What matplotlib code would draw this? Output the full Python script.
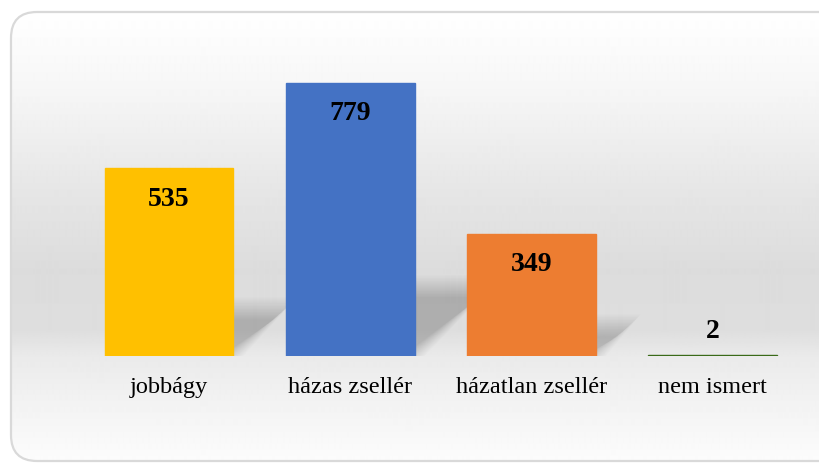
import numpy as np
import matplotlib
matplotlib.use("Agg")
import matplotlib.pyplot as plt
from matplotlib.patches import FancyBboxPatch, Polygon

categories = ["jobbágy", "házas zsellér", "házatlan zsellér", "nem ismert"]
values = [535, 779, 349, 2]
colors = ["#FFC000", "#4472C4", "#ED7D31", "#3A6A18"]

W, H = 820, 463
fig = plt.figure(figsize=(W / 100, H / 100), dpi=100)

# background: rounded box with a soft vertical gradient
bg = fig.add_axes([0, 0, 1, 1])
bg.set_xlim(0, W)
bg.set_ylim(H, 0)
bg.axis("off")
stops_y = [12, 90, 190, 270, 330, 356, 400, 462]
stops_g = [255, 246, 230, 220, 222, 234, 242, 252]
grad = np.interp(np.arange(H), stops_y, stops_g) / 255.0
img = np.repeat(grad[:, None], 2, axis=1)
box = FancyBboxPatch((11, 12), 840, 449, boxstyle="round,pad=0,rounding_size=26",
                     facecolor="none", edgecolor="#d9d9d9", linewidth=1.6, zorder=3)
bg.add_patch(box)
im = bg.imshow(img, cmap="gray", vmin=0, vmax=1, extent=(0, W, H, 0), aspect="auto",
               interpolation="bilinear", zorder=1)
im.set_clip_path(box)

# bar chart
ax = fig.add_axes([78.3 / W, 107 / H, 725 / W, 297.9 / H])
ax.set_facecolor("none")
ax.set_xlim(-0.5, 3.5)
ax.set_ylim(0, 850)
x = np.arange(len(categories))
bw = 0.71

# perspective shadows behind the bars (blurred by layering)
px_x = 725 / 4.0
px_y = 297.9 / 850
for xi, v in zip(x, values):
    hs = 0.26 * v
    hs_px = hs * px_y
    if hs_px < 3:
        continue
    dx = 1.1 * hs * px_y / px_x
    base = np.array([[xi - bw / 2, 0], [xi + bw / 2, 0],
                     [xi + bw / 2 + dx, hs], [xi - bw / 2 + dx, hs]])
    for b in np.linspace(-12, 10, 16):
        ex = b / px_x
        ey = b / px_y
        pts = base.copy()
        pts[[1, 2], 0] += ex
        pts[[2, 3], 1] += ey
        pts[:, 1] = np.clip(pts[:, 1], 0, None)
        ax.add_patch(Polygon(pts, closed=True, facecolor="black", edgecolor="none",
                             alpha=0.012, zorder=1))

ax.bar(x, values, width=bw, color=colors, edgecolor=colors, linewidth=1.0, zorder=2)

for xi, v in zip(x, values):
    off = -22 if v > 50 else 17
    ax.annotate(str(v), (xi, v), xytext=(0, off), textcoords="offset points",
                ha="center", va="center", fontsize=20, fontweight="bold",
                family="Liberation Serif", zorder=4)

ax.set_xticks(x)
ax.set_xticklabels(categories, fontsize=17.5, family="Liberation Serif")
ax.tick_params(axis="x", length=0, pad=15)
ax.set_yticks([])
for sp in ax.spines.values():
    sp.set_visible(False)

fig.savefig("out.png", dpi=100)
